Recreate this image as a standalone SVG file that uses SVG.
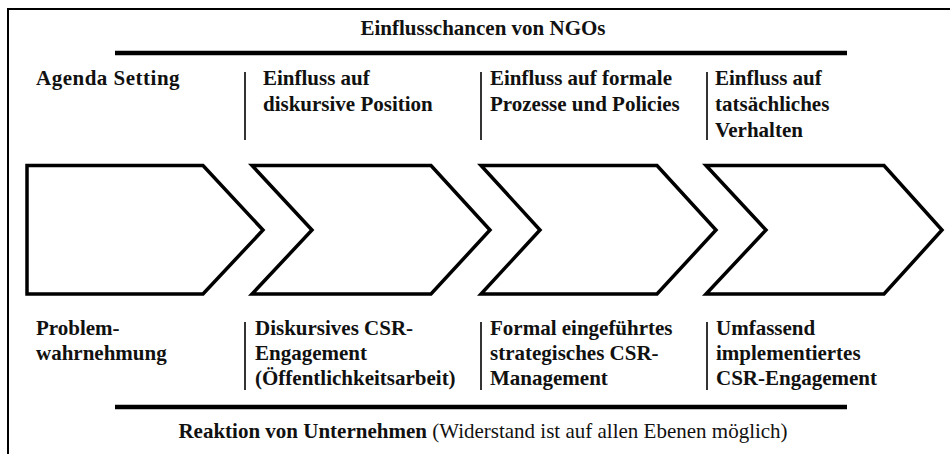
<svg xmlns="http://www.w3.org/2000/svg" width="950" height="454" viewBox="0 0 950 454">
<style>
.t{font-family:'Liberation Serif','DejaVu Serif','Noto Serif',serif;font-size:21px;fill:#111;font-weight:bold}
.r{font-weight:normal}
.c{text-anchor:middle}
.chev{fill:#fff;stroke:#000;stroke-width:3.5;stroke-linejoin:miter}
.sep{stroke:#000;stroke-width:1.6}
.bar{stroke:#000;stroke-width:4.5}
</style>
<rect width="950" height="454" fill="#fff"/>
<g id="frame"><path d="M8 454V9H950" fill="none" stroke="#000" stroke-width="2"/></g>
<g id="title"><text class="t c" x="483" y="35" font-size="22">Einflusschancen von NGOs</text></g>
<g id="connectors">
<line class="bar" x1="115" y1="53" x2="847" y2="53"/>
<line class="bar" x1="115" y1="407" x2="847" y2="407"/>
<line class="sep" x1="245" y1="72" x2="245" y2="140"/>
<line class="sep" x1="481" y1="72" x2="481" y2="140"/>
<line class="sep" x1="707" y1="72" x2="707" y2="140"/>
<line class="sep" x1="245" y1="322" x2="245" y2="390"/>
<line class="sep" x1="481" y1="322" x2="481" y2="390"/>
<line class="sep" x1="707" y1="322" x2="707" y2="390"/>
</g>
<g id="top1"><text class="t" x="36" y="85" letter-spacing="0.5">Agenda Setting</text></g>
<g id="top2"><text class="t" x="263" y="85">Einfluss auf</text><text class="t" x="263" y="111">diskursive Position</text></g>
<g id="top3"><text class="t" x="490" y="85">Einfluss auf formale</text><text class="t" x="490" y="111">Prozesse und Policies</text></g>
<g id="top4"><text class="t" x="715" y="85">Einfluss auf</text><text class="t" x="715" y="111">tatsächliches</text><text class="t" x="715" y="137">Verhalten</text></g>
<g id="chevron1"><path class="chev" d="M27 165.5H203L263 230L203 294H27Z"/></g>
<g id="chevron2"><path class="chev" d="M252 165.5H431L490 230L431 294H252L312 230Z"/></g>
<g id="chevron3"><path class="chev" d="M481 165.5H657L716 230L657 294H481L540 230Z"/></g>
<g id="chevron4"><path class="chev" d="M706 165.5H884L942 230L884 294H706L766 230Z"/></g>
<g id="bottom1"><text class="t" x="36" y="335">Problem-</text><text class="t" x="36" y="360">wahrnehmung</text></g>
<g id="bottom2"><text class="t" x="255" y="335">Diskursives CSR-</text><text class="t" x="255" y="360">Engagement</text><text class="t" x="255" y="385">(Öffentlichkeitsarbeit)</text></g>
<g id="bottom3"><text class="t" x="490" y="335">Formal eingeführtes</text><text class="t" x="490" y="360">strategisches CSR-</text><text class="t" x="490" y="385">Management</text></g>
<g id="bottom4"><text class="t" x="716" y="335">Umfassend</text><text class="t" x="716" y="360">implementiertes</text><text class="t" x="716" y="385">CSR-Engagement</text></g>
<g id="footer"><text class="t c" x="483" y="438">Reaktion von Unternehmen <tspan class="r">(Widerstand ist auf allen Ebenen möglich)</tspan></text></g>
</svg>
